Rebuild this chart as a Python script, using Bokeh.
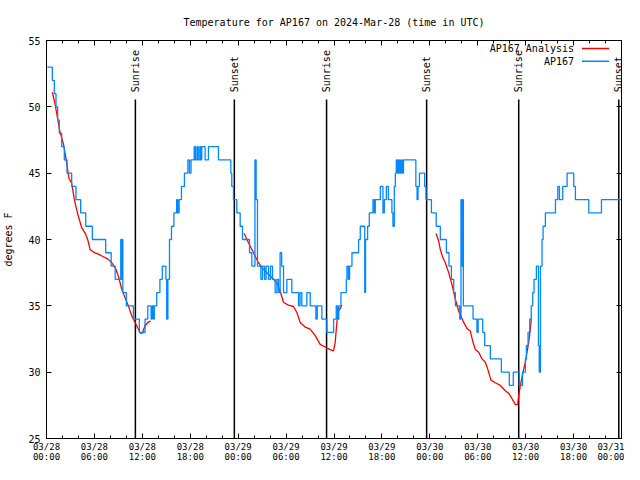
import math
import pandas as pd
from bokeh.plotting import figure
from bokeh.models import (Range1d, FixedTicker, DatetimeAxis, LinearAxis, Label,
                          BoxAnnotation, DatetimeTickFormatter)
from bokeh.core.properties import value
from bokeh.embed import file_html
from bokeh.resources import INLINE

# ---------------- data ----------------
TITLE = "Temperature for AP167 on 2024-Mar-28 (time in UTC)"
START = "2024-03-28 00:00"
SPAN_HOURS = 72

# station observations (hours since start, deg F)
obs_hours = [0.10, 0.73, 0.98, 1.19, 1.40, 1.60, 1.90, 2.23, 2.57, 3.15, 3.69, 4.28, 4.91,
             5.74, 7.41, 8.10, 8.60, 9.30, 9.38, 9.48, 9.56, 10.00, 10.88, 11.63, 12.34,
             12.68, 13.10, 13.25, 13.40, 13.50, 13.80, 14.20, 14.50, 14.95, 15.05, 15.20,
             15.40, 15.65, 15.95, 16.30, 16.45, 16.60, 16.90, 17.27, 17.70, 17.90, 18.10,
             18.50, 18.65, 18.85, 19.00, 19.20, 19.30, 19.44, 19.86, 20.28, 21.53, 23.08,
             23.20, 23.41, 23.83, 24.25, 24.54,
             25.42, 25.71, 26.10, 26.25, 26.42, 26.84, 27.05, 27.30, 27.50, 27.80, 28.05,
             28.30, 28.63, 28.85, 29.05, 29.25, 29.45, 29.68, 30.10, 30.72, 31.56, 31.75,
             31.97, 32.60, 33.02, 33.73, 33.90, 34.48, 35.10, 35.95, 36.28, 36.45, 36.60,
             36.87, 37.54, 37.62, 37.80, 37.95, 38.25, 39.08, 39.29, 39.85, 39.95, 40.21,
             40.42, 40.88, 41.05, 41.17, 41.80, 42.13, 42.30, 42.55, 42.80, 43.25, 43.38,
             43.55, 43.68, 43.80, 43.95, 44.10, 44.25, 44.40, 44.55, 44.70, 46.25, 46.40,
             46.52, 46.70, 47.35, 47.52, 48.20, 48.80,
             49.31, 50.07, 50.40, 50.70, 50.99, 51.20, 51.74, 51.90, 52.00, 52.10, 52.20,
             53.41, 53.90, 54.05, 54.62, 54.87, 55.58, 56.96, 57.95, 58.45, 59.20, 59.60,
             59.97, 60.09, 60.30, 60.51, 60.70, 60.88, 61.05, 61.34, 61.60, 61.70, 61.85,
             62.05, 62.18, 62.47, 63.73, 64.02, 64.23, 64.64, 65.19, 66.02, 66.23, 67.90,
             69.49, 72.00]
obs_temps = [53, 52, 51, 50, 49, 48, 47, 46, 45, 44, 43, 42, 41,
             40, 39, 38, 37, 40, 37, 40, 36, 35, 34, 33, 34,
             35, 34, 35, 34, 35, 36, 37, 38, 37, 34, 37,
             40, 41, 42, 43, 42, 43, 44, 45, 46, 45, 46,
             47, 46, 47, 46, 47, 46, 47, 46, 47, 46, 45,
             44, 43, 42, 41, 40,
             39, 38, 46, 43, 38, 37, 38, 37, 38, 37, 38,
             37, 36, 37, 36, 39, 38, 36, 37, 36, 35, 36,
             35, 36, 35, 34, 35, 34, 33, 34, 35, 34, 35,
             36, 37, 38, 37, 38, 39, 40, 41, 36, 40, 41,
             42, 43, 42, 43, 44, 42, 43, 44, 43, 42, 41,
             44, 45, 46, 45, 46, 45, 46, 45, 46, 44, 43,
             44, 45, 44, 43, 42, 41,
             40, 39, 38, 37, 36, 35, 34, 43, 38, 43, 35,
             34, 33, 34, 33, 32, 31, 30, 29, 30, 29, 30,
             31, 32, 33, 34, 35, 36, 37, 38, 32, 30, 38,
             40, 41, 42, 43, 44, 43, 44, 45, 44, 43, 42,
             43, 43]

# analysis (three overnight segments)
ana1_hours = [0.73, 1.06, 1.40, 1.69, 2.11, 2.40, 2.65, 2.82, 3.15, 3.49, 3.78, 3.99, 4.40,
              4.82, 5.16, 5.45, 5.87, 6.49, 7.12, 7.75, 8.16, 8.58, 9.00, 9.42, 9.84, 10.25,
              10.67, 11.09, 11.50, 11.71, 12.00, 12.34, 12.76, 13.05]
ana1_temps = [51.1, 50.25, 49.1, 48.1, 47.25, 46.25, 45.25, 44.6, 44.25, 43.0, 42.25, 41.75,
              40.9, 40.5, 40.0, 39.25, 39.05, 38.9, 38.7, 38.5, 38.25, 37.9, 37.25, 36.25,
              35.6, 35.0, 34.25, 33.75, 33.25, 32.95, 32.95, 33.5, 33.8, 33.85]
ana2_hours = [24.75, 25.29, 25.92, 26.54, 27.17, 28.00, 28.84, 29.26, 29.68, 30.30, 30.93,
              31.35, 31.76, 32.39, 33.02, 33.65, 34.27, 34.90, 35.52, 35.94, 36.15, 36.36,
              36.57, 36.99]
ana2_temps = [40.45, 39.75, 39.0, 38.25, 37.75, 37.25, 36.75, 36.1, 35.25, 35.05, 34.95,
              34.5, 33.75, 33.4, 33.25, 32.75, 32.1, 31.9, 31.7, 31.6, 32.25, 33.75, 34.6,
              35.05]
ana3_hours = [48.77, 49.10, 49.31, 49.65, 49.94, 50.36, 50.77, 51.19, 51.61, 52.24, 52.65,
              53.07, 53.41, 53.70, 54.12, 54.53, 54.95, 55.24, 55.66, 56.20, 56.83, 57.46,
              57.88, 58.29, 58.71, 59.00, 59.13, 59.34, 59.67, 59.96, 60.17, 60.38, 60.59,
              60.72]
ana3_temps = [40.45, 39.9, 39.25, 38.6, 38.25, 37.5, 36.6, 35.5, 34.6, 33.75, 33.3, 33.1,
              32.25, 31.7, 31.5, 31.0, 30.75, 30.25, 29.4, 29.2, 29.0, 28.6, 28.4, 28.0,
              27.55, 27.55, 28.25, 29.0, 30.0, 30.75, 31.5, 32.25, 33.25, 34.1]

sun_hours = [11.13, 23.52, 35.07, 47.60, 59.13, 71.66]
sun_labels = ["Sunrise", "Sunset", "Sunrise", "Sunset", "Sunrise", "Sunset"]

x_tick_hours = [0, 6, 12, 18, 24, 30, 36, 42, 48, 54, 60, 66, 72]
x_minor_hours = list(range(0, 73, 2))
y_ticks = [25, 30, 35, 40, 45, 50, 55]
Y_MIN, Y_MAX = 25, 55

legend_names = ["AP167 Analysis", "AP167"]

# ---------------- styling ----------------
FONT = "DejaVu Sans Mono"
FS = "10px"
RED = "#ff0000"
BLUE = "#0088ff"
MARK_TOP = 50.55     # top of sunrise/sunset markers (deg F)
MARK_LABEL_Y = 51.1  # start of rotated marker labels (deg F)

BASE_MS = int(pd.Timestamp(START).timestamp() * 1000)
H_MS = 3600 * 1000


def to_ms(hours):
    return [BASE_MS + int(round(h * H_MS)) for h in hours]


p = figure(width=624, height=464, x_axis_type="datetime",
           x_range=Range1d(BASE_MS, BASE_MS + SPAN_HOURS * H_MS),
           y_range=Range1d(Y_MIN, Y_MAX),
           output_backend="svg", toolbar_location=None, title=TITLE,
           min_border_left=46, min_border_right=3, min_border_top=40,
           min_border_bottom=24)
p.background_fill_color = "white"
p.border_fill_color = "white"
p.outline_line_color = "black"
p.xgrid.visible = False
p.ygrid.visible = False

p.title.text_font = FONT
p.title.text_font_size = FS
p.title.text_font_style = "normal"
p.title.text_color = "black"
p.title.align = "center"
p.title.standoff = 26

x_ticker = FixedTicker(ticks=to_ms(x_tick_hours), minor_ticks=to_ms(x_minor_hours))
y_ticker = FixedTicker(ticks=y_ticks)


def style_axis(ax):
    ax.axis_line_color = "black"
    ax.major_tick_line_color = "black"
    ax.minor_tick_line_color = "black"
    ax.major_tick_in = 5
    ax.major_tick_out = 0
    ax.minor_tick_in = 3
    ax.minor_tick_out = 0
    ax.major_label_text_font = FONT
    ax.major_label_text_font_size = FS
    ax.major_label_text_color = "black"


xb = p.xaxis[0]
style_axis(xb)
xb.ticker = x_ticker
fmt = "%m/%d\n%H:%M"
xb.formatter = DatetimeTickFormatter(microseconds=fmt, milliseconds=fmt, seconds=fmt,
                                     minsec=fmt, minutes=fmt, hourmin=fmt, hours=fmt,
                                     days=fmt, months=fmt, years=fmt)
xb.major_label_text_font_size = "9px"
xb.major_label_text_line_height = 1.0
xb.major_label_standoff = 3

yl = p.yaxis[0]
style_axis(yl)
yl.ticker = y_ticker
yl.major_label_standoff = 6
yl.axis_label = "degrees F"
yl.axis_label_text_font = FONT
yl.axis_label_text_font_size = FS
yl.axis_label_text_font_style = "normal"
yl.axis_label_text_color = "black"
yl.axis_label_standoff = 11

top = DatetimeAxis(ticker=x_ticker,
                   major_label_overrides={t: "" for t in to_ms(x_tick_hours)})
style_axis(top)
top.major_label_standoff = 0
p.add_layout(top, "above")

right = LinearAxis(ticker=y_ticker, major_label_overrides={t: "" for t in y_ticks})
style_axis(right)
right.major_label_standoff = 0
p.add_layout(right, "right")

# sunrise / sunset markers
sun_ms = to_ms(sun_hours)
p.segment(x0=sun_ms, y0=[Y_MIN] * len(sun_ms), x1=sun_ms, y1=[MARK_TOP] * len(sun_ms),
          line_color="black", line_width=1.5)
p.text(x=sun_ms, y=[MARK_LABEL_Y] * len(sun_ms), text=sun_labels, angle=math.pi / 2,
       text_align="left", text_baseline="middle", text_font=value(FONT),
       text_font_size=FS, text_color="black")

# analysis
for hh, tt in [(ana1_hours, ana1_temps), (ana2_hours, ana2_temps), (ana3_hours, ana3_temps)]:
    p.line(to_ms(hh), tt, line_color=RED, line_width=1.3)

# observations
p.step(to_ms(obs_hours), obs_temps, mode="after", line_color=BLUE, line_width=1.3)

# legend (gnuplot style: text then sample)
for i, (name, col) in enumerate(zip(legend_names, [RED, BLUE])):
    ypos = 390 - i * 12.7
    p.add_layout(Label(x=527.5, y=ypos, x_units="screen", y_units="screen", text=name,
                       text_align="right", text_baseline="middle", text_font=FONT,
                       text_font_size=FS, text_color="black"))
    p.add_layout(BoxAnnotation(left=535.5, right=562.5, bottom=ypos - 0.7, top=ypos + 0.7,
                               left_units="screen", right_units="screen",
                               bottom_units="screen", top_units="screen",
                               fill_color=col, fill_alpha=1.0, line_alpha=0))

open("out.html", "w").write(file_html(p, INLINE))
